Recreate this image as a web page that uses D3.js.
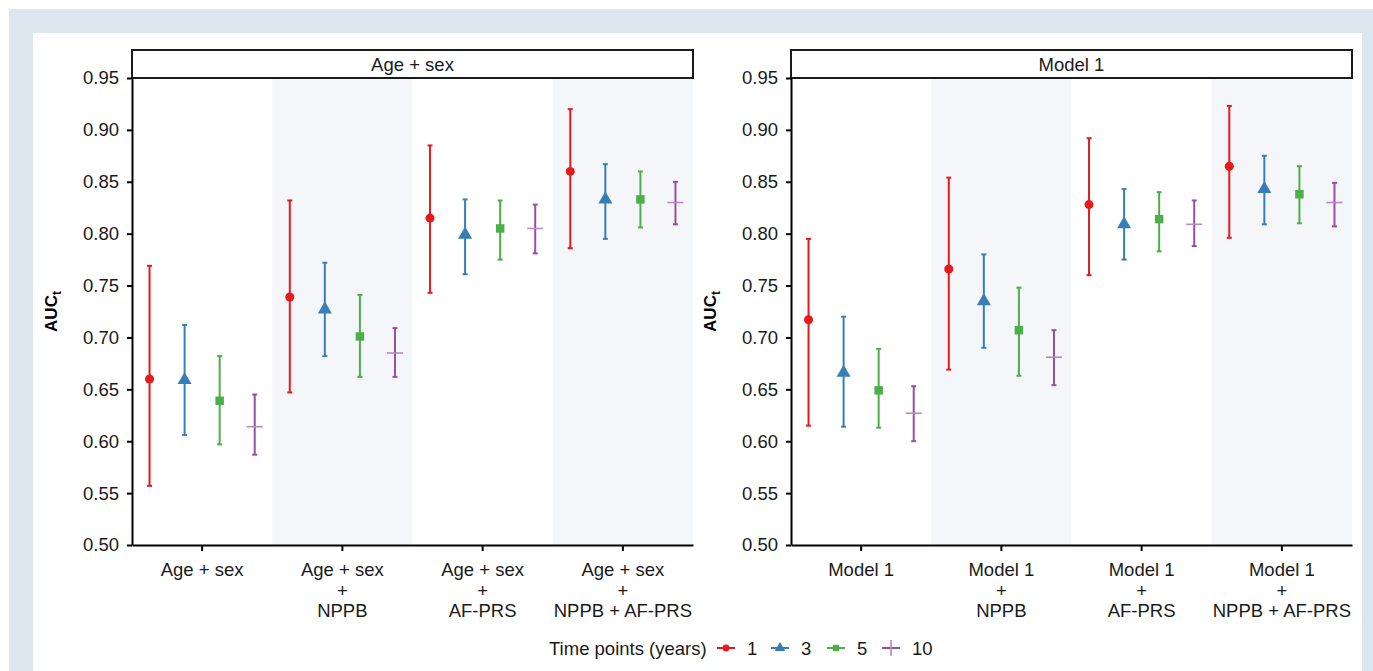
<!DOCTYPE html>
<html>
<head>
<meta charset="utf-8">
<script src="https://cdn.jsdelivr.net/npm/d3@7"></script>
<style>
  body { margin: 0; background: #fff; }
  text { font-family: "Liberation Sans", Arial, sans-serif; }
</style>
</head>
<body>
<div id="chart"></div>
<script>
// time points (years) and their colours
const timePoints = ["1", "3", "5", "10"];
const colors = ["#e41a1c", "#377eb8", "#4daf4a", "#984ea3"];

// panel 1: Age + sex
const ageGroups = [["Age + sex"], ["Age + sex", "+", "NPPB"], ["Age + sex", "+", "AF-PRS"], ["Age + sex", "+", "NPPB + AF-PRS"]];
const ageEst = [[0.660, 0.739, 0.815, 0.860], [0.659, 0.727, 0.799, 0.833], [0.639, 0.701, 0.805, 0.833], [0.614, 0.685, 0.805, 0.830]];
const ageLo  = [[0.557, 0.647, 0.743, 0.786], [0.606, 0.682, 0.761, 0.795], [0.597, 0.662, 0.775, 0.806], [0.587, 0.662, 0.781, 0.809]];
const ageHi  = [[0.769, 0.832, 0.885, 0.920], [0.712, 0.772, 0.833, 0.867], [0.682, 0.741, 0.832, 0.860], [0.645, 0.709, 0.828, 0.850]];

// panel 2: Model 1
const modelGroups = [["Model 1"], ["Model 1", "+", "NPPB"], ["Model 1", "+", "AF-PRS"], ["Model 1", "+", "NPPB + AF-PRS"]];
const modelEst = [[0.717, 0.766, 0.828, 0.865], [0.666, 0.735, 0.809, 0.843], [0.649, 0.707, 0.814, 0.838], [0.627, 0.681, 0.809, 0.830]];
const modelLo  = [[0.615, 0.669, 0.760, 0.796], [0.614, 0.690, 0.775, 0.809], [0.613, 0.663, 0.783, 0.810], [0.600, 0.654, 0.788, 0.807]];
const modelHi  = [[0.795, 0.854, 0.892, 0.923], [0.720, 0.780, 0.843, 0.875], [0.689, 0.748, 0.840, 0.865], [0.653, 0.707, 0.832, 0.849]];

const yTicks = [0.50, 0.55, 0.60, 0.65, 0.70, 0.75, 0.80, 0.85, 0.90, 0.95];

let width = 1373;
let height = 671;
let fontSize = "18.5px";

let svg = d3.select("#chart")
    .append("svg")
    .attr("width", width)
    .attr("height", height);

// outer frame
svg.append("rect").attr("x", 9).attr("y", 9).attr("width", width - 9).attr("height", height - 9).attr("fill", "#dde7f0");
svg.append("rect").attr("x", 33).attr("y", 33).attr("width", 1329).attr("height", height - 33).attr("fill", "#ffffff");

let yScale = d3.scaleLinear()
    .domain([0.5, 0.95])
    .range([545, 78]);

function symbolFor(i) {
    if (i == 0) return d3.symbol().type(d3.symbolCircle).size(64)();
    if (i == 1) return d3.symbol().type(d3.symbolTriangle).size(85)();
    if (i == 2) return d3.symbol().type(d3.symbolSquare).size(72)();
    return null;
}

function drawPanel(left, right, title, groups, est, lo, hi) {
    let names = groups.map(g => g.join(" "));
    let xScale = d3.scaleBand()
        .domain(names)
        .range([left, right]);
    let dodge = d3.scaleBand()
        .domain(timePoints)
        .range([0, xScale.bandwidth()]);

    let g = svg.append("g");

    // alternating background bands
    g.selectAll(".band")
        .data(names)
        .enter().append("rect")
        .attr("x", d => xScale(d))
        .attr("y", yScale(0.95))
        .attr("width", xScale.bandwidth())
        .attr("height", yScale(0.5) - yScale(0.95))
        .attr("fill", (d, i) => i % 2 == 1 ? "#f4f6fa" : "#ffffff");

    // strip
    g.append("rect")
        .attr("x", left)
        .attr("y", 50)
        .attr("width", right - left)
        .attr("height", 28)
        .attr("fill", "#fff")
        .attr("stroke", "#1a1a1a")
        .attr("stroke-width", 2);
    g.append("text")
        .attr("x", (left + right) / 2)
        .attr("y", 70.5)
        .attr("text-anchor", "middle")
        .style("font-size", fontSize)
        .attr("fill", "#1a1a1a")
        .text(title);

    // error bars
    timePoints.forEach((tp, i) => {
        let pts = names.map((n, j) => ({ x: xScale(n) + dodge(tp) + dodge.bandwidth() / 2, e: est[i][j], lo: lo[i][j], hi: hi[i][j] }));
        let s = g.append("g").attr("stroke", colors[i]).attr("fill", colors[i]);
        s.selectAll(".bar").data(pts).enter().append("line")
            .attr("x1", d => d.x).attr("x2", d => d.x)
            .attr("y1", d => yScale(d.lo)).attr("y2", d => yScale(d.hi))
            .attr("stroke-width", 2);
        s.selectAll(".capHi").data(pts).enter().append("line")
            .attr("x1", d => d.x - 2.5).attr("x2", d => d.x + 2.5)
            .attr("y1", d => yScale(d.hi)).attr("y2", d => yScale(d.hi))
            .attr("stroke-width", 2);
        s.selectAll(".capLo").data(pts).enter().append("line")
            .attr("x1", d => d.x - 2.5).attr("x2", d => d.x + 2.5)
            .attr("y1", d => yScale(d.lo)).attr("y2", d => yScale(d.lo))
            .attr("stroke-width", 2);
        if (i < 3) {
            s.selectAll(".pt").data(pts).enter().append("path")
                .attr("d", symbolFor(i))
                .attr("stroke", "none")
                .attr("transform", d => `translate(${d.x}, ${yScale(d.e)})`);
        } else {
            s.selectAll(".pt").data(pts).enter().append("line")
                .attr("x1", d => d.x - 8).attr("x2", d => d.x + 8)
                .attr("y1", d => yScale(d.e)).attr("y2", d => yScale(d.e))
                .attr("stroke", "#b98bc0")
                .attr("stroke-width", 1.6);
        }
    });

    // y axis
    let yAxis = d3.axisLeft(yScale)
        .tickValues(yTicks)
        .tickFormat(d3.format(".2f"))
        .tickSize(5)
        .tickSizeOuter(0)
        .tickPadding(8);
    let ya = svg.append("g")
        .attr("transform", `translate(${left}, 0)`)
        .call(yAxis);
    ya.select(".domain").attr("stroke", "#000").attr("stroke-width", 2);
    ya.selectAll(".tick line").attr("stroke", "#000").attr("stroke-width", 2);
    ya.selectAll("text").style("font-size", fontSize).attr("fill", "#1a1a1a")
        .style("font-family", "'Liberation Sans', Arial, sans-serif");

    // x axis
    let xAxis = d3.axisBottom(xScale)
        .tickSize(6)
        .tickSizeOuter(0)
        .tickFormat("");
    let xa = svg.append("g")
        .attr("transform", `translate(0, ${yScale(0.5)})`)
        .call(xAxis);
    xa.select(".domain").attr("stroke", "#000").attr("stroke-width", 2);
    xa.selectAll(".tick line").attr("stroke", "#000").attr("stroke-width", 2);

    groups.forEach((lines, j) => {
        let t = svg.append("text")
            .attr("x", xScale(names[j]) + xScale.bandwidth() / 2)
            .attr("y", 576)
            .attr("text-anchor", "middle")
            .style("font-size", fontSize)
            .attr("fill", "#1a1a1a");
        lines.forEach((ln, k) => {
            t.append("tspan")
                .attr("x", xScale(names[j]) + xScale.bandwidth() / 2)
                .attr("y", 576 + k * 20.5)
                .text(ln);
        });
    });

    // y title
    let yt = svg.append("text")
        .attr("transform", `translate(${left - 75}, ${(yScale(0.5) + yScale(0.95)) / 2}) rotate(-90)`)
        .attr("text-anchor", "middle")
        .style("font-size", "17px")
        .style("font-weight", "bold")
        .attr("fill", "#000");
    yt.append("tspan").text("AUC");
    yt.append("tspan").attr("dy", 4).style("font-size", "12px").text("t");
}

drawPanel(132, 693, "Age + sex", ageGroups, ageEst, ageLo, ageHi);
drawPanel(791, 1352, "Model 1", modelGroups, modelEst, modelLo, modelHi);

// legend
let legend = svg.append("g");
legend.append("text")
    .attr("x", 549)
    .attr("y", 654.5)
    .style("font-size", fontSize)
    .attr("fill", "#1a1a1a")
    .text("Time points (years)");

let legendX = [726, 780, 836, 891];
timePoints.forEach((tp, i) => {
    let cx = legendX[i];
    legend.append("line")
        .attr("x1", cx - 9).attr("x2", cx + 9)
        .attr("y1", 648).attr("y2", 648)
        .attr("stroke", colors[i])
        .attr("stroke-width", 2);
    if (i < 3) {
        legend.append("path")
            .attr("d", symbolFor(i))
            .attr("fill", colors[i])
            .attr("transform", `translate(${cx}, 648) scale(0.75)`);
    } else {
        legend.append("line")
            .attr("x1", cx).attr("x2", cx)
            .attr("y1", 640).attr("y2", 656)
            .attr("stroke", "#b98bc0")
            .attr("stroke-width", 1.6);
    }
    legend.append("text")
        .attr("x", cx + 21)
        .attr("y", 654.5)
        .style("font-size", fontSize)
        .attr("fill", "#1a1a1a")
        .text(tp);
});
</script>
</body>
</html>
